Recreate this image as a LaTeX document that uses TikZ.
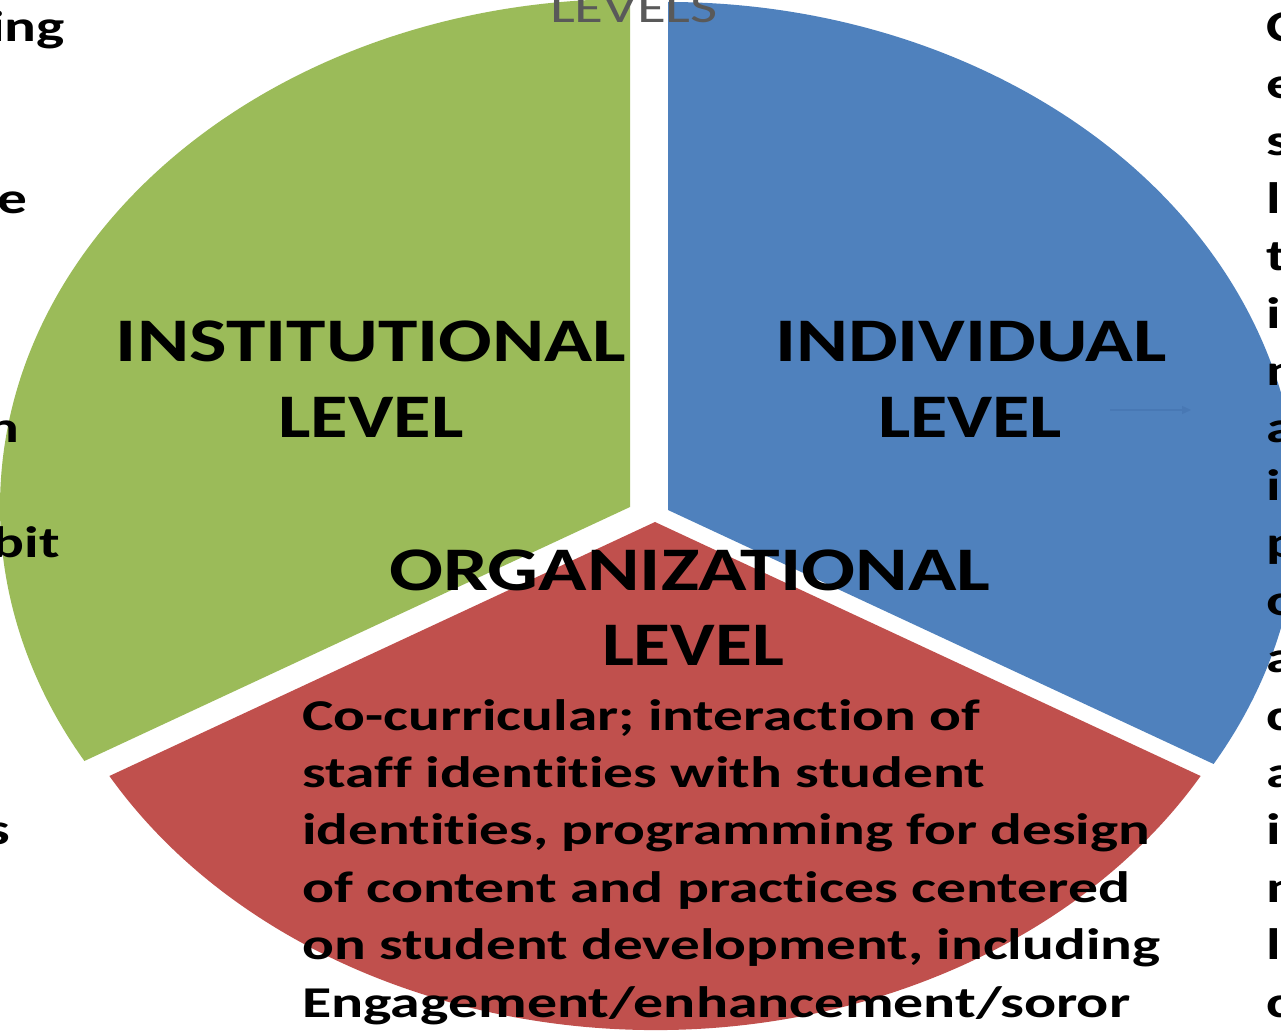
\documentclass[tikz,border=0pt]{standalone}
\usepackage{fontspec}
\usepackage{graphicx}
\setmainfont{Carlito}[Ligatures=NoCommon]
\newfontfamily\bodyfont[FakeStretch=1.35,Ligatures=NoCommon]{Carlito}
\usetikzlibrary{arrows.meta}
\definecolor{pgreen}{HTML}{9BBB59}
\definecolor{pblue}{HTML}{4F81BD}
\definecolor{pred}{HTML}{C0504D}
\definecolor{lvgray}{HTML}{595959}
\definecolor{arrblue}{HTML}{4878B4}
\newcommand{\fitw}[2]{\resizebox{#1}{\height}{#2}}
\begin{document}
\begin{tikzpicture}[x=1pt,y=1pt,
  head/.style={font=\fontsize{62}{74}\selectfont\bfseries, inner sep=0pt, anchor=base},
  body/.style={font=\fontsize{44}{57}\selectfont\bfseries, inner sep=0pt, anchor=base west},
  frag/.style={font=\bodyfont\fontsize{44}{57}\selectfont\bfseries, inner sep=0pt},
  title/.style={font=\fontsize{44}{50}\selectfont, text=lvgray, inner sep=0pt, anchor=base},
]
\useasboundingbox (0,0) rectangle (1281,1031);
\clip (0,0) rectangle (1281,1031);
% pie sectors
\coordinate (G) at (630,524);
\coordinate (B) at (668,521);
\coordinate (R) at (655,509);
\fill[pgreen] (G) -- ++(0,508) arc[start angle=90,end angle=210,x radius=630,y radius=508] -- cycle;
\fill[pblue] (B) -- ++(545.6,-254) arc[start angle=-30,end angle=90,x radius=630,y radius=508] -- cycle;
\fill[pred] (R) -- ++(-545.6,-254) arc[start angle=210,end angle=330,x radius=630,y radius=508] -- cycle;
% faint arrow
\coordinate (a1) at (1110,621);
\coordinate (a2) at (1191,621);
\draw[arrblue, line width=1.3pt, -{Triangle[length=9pt,width=8pt]}] (a1) -- (a2);
% headings
\node[head] (inst1) at (371,669) {\fitw{510pt}{INSTITUTIONAL}};
\node[head] (inst2) at (371,593) {\fitw{185pt}{LEVEL}};
\node[head] (ind1) at (971,669) {\fitw{392pt}{INDIVIDUAL}};
\node[head] (ind2) at (970,593) {\fitw{184pt}{LEVEL}};
\node[head] (org1) at (690,440) {\fitw{601pt}{ORGANIZATIONAL}};
\node[head] (org2) at (693,365) {\fitw{182pt}{LEVEL}};
% body text
\node[body] (b1) at (302,301.0) {\fitw{678pt}{Co-curricular; interaction of}};
\node[body] (b2) at (302,243.6) {\fitw{683pt}{staff identities with student}};
\node[body] (b3) at (302,186.2) {\fitw{848pt}{identities, programming for design}};
\node[body] (b4) at (302,128.8) {\fitw{828pt}{of content and practices centered}};
\node[body] (b5) at (302,71.4) {\fitw{858pt}{on student development, including}};
\node[body] (b6) at (302,14.0) {\fitw{828pt}{Engagement/enhancement/soror}};
% left fragments
\node[frag, anchor=base east] (l1) at (65,989.8) {ing};
\node[frag, anchor=base east] (l2) at (28,817.6) {e};
\node[frag, anchor=base east] (l3) at (20,588.0) {n};
\node[frag, anchor=base east] (l4) at (60,473.2) {bit};
\node[frag, anchor=base east] (l5) at (10,186.2) {s};
% right fragments
\foreach \ch [count=\k from 0] in {C,e,s,l,t,i,n,a,i,p,o,a,c,a,i,n,l,c}
  \node[frag, anchor=base west] (r\k) at (1266,989.8-57.4*\k) {\ch};
% title
\node[title] (lv) at (634,1008) {\fitw{168pt}{LEVELS}};
\end{tikzpicture}
\end{document}
